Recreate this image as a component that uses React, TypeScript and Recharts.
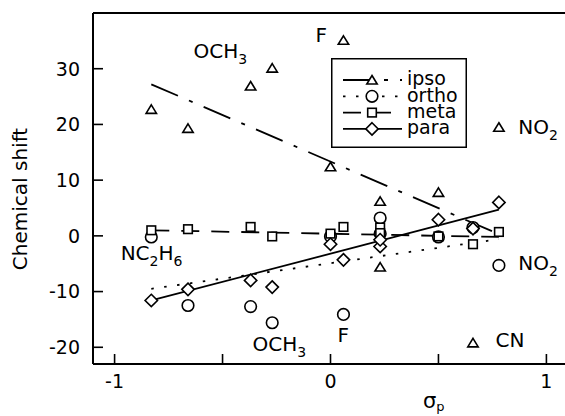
import React from "react";
import { ScatterChart, Scatter, XAxis, YAxis, ReferenceLine, Legend } from "recharts";

// substituent sigma_p values and 13C substituent shifts per ring position
const sigma = [-0.83, -0.66, -0.37, -0.27, 0.0, 0.06, 0.23, 0.23, 0.5, 0.66, 0.78];
const ipso = [22.7, 19.3, 26.9, 30.1, 12.4, 35.1, 6.2, -5.6, 7.8, -19.2, 19.5];
const ortho = [-0.2, -12.5, -12.7, -15.6, -0.1, -14.1, 0.4, 3.2, -0.2, 1.5, -5.3];
const meta = [1.0, 1.2, 1.6, -0.1, 0.4, 1.6, 1.5, 0.5, -0.1, -1.5, 0.7];
const para = [-11.6, -9.6, -8.0, -9.2, -1.5, -4.3, -1.9, -0.7, 2.9, 1.3, 6.0];

// fitted lines: end points
const fitX = [-0.83, 0.78];
const ipsoFit = [27.2, 0.3];
const orthoFit = [-9.5, -0.6];
const metaFit = [1.0, -0.2];
const paraFit = [-11.6, 4.7];

const xTicks = [-1, -0.5, 0, 0.5, 1];
const yTicks = [-20, -10, 0, 10, 20, 30];

const notes = [
  { text: "OCH_3", x: -0.634, y: 32.0 },
  { text: "F", x: -0.069, y: 34.75 },
  { text: "NO_2", x: 0.87, y: 18.3 },
  { text: "NC_2H_6", x: -0.972, y: -4.3 },
  { text: "OCH_3", x: -0.361, y: -20.7 },
  { text: "F", x: 0.032, y: -19.1 },
  { text: "CN", x: 0.764, y: -20.0 },
  { text: "NO_2", x: 0.87, y: -6.2 },
];

const FONT = "'DejaVu Sans', sans-serif";

const series = [
  { name: "ipso", values: ipso, fit: ipsoFit, marker: "triangle", dash: "29 12 4 12" },
  { name: "ortho", values: ortho, fit: orthoFit, marker: "circle", dash: "2.5 10.5" },
  { name: "meta", values: meta, fit: metaFit, marker: "square", dash: "18 12" },
  { name: "para", values: para, fit: paraFit, marker: "diamond", dash: undefined },
];

const Marker = ({ kind, cx, cy }: { kind: string; cx: number; cy: number }) => {
  const p = { fill: "#fff", stroke: "#000", strokeWidth: 1.6 };
  if (kind === "triangle")
    return <polygon points={`${cx},${cy - 4.5} ${cx + 5.2},${cy + 4} ${cx - 5.2},${cy + 4}`} {...p} />;
  if (kind === "circle") return <circle cx={cx} cy={cy} r={5.8} {...p} />;
  if (kind === "square") return <rect x={cx - 4.3} y={cy - 4.3} width={8.6} height={8.6} {...p} />;
  return <polygon points={`${cx},${cy - 6.2} ${cx + 6.2},${cy} ${cx},${cy + 6.2} ${cx - 6.2},${cy}`} {...p} />;
};

const Chem = ({ x, y, text }: { x: number; y: number; text: string }) => {
  const parts = text.split(/(_\w)/).filter(Boolean);
  let sub = false;
  return (
    <text x={x} y={y} fontFamily={FONT} fontSize={20} fill="#000">
      {parts.map((t, i) => {
        if (t.startsWith("_")) {
          sub = true;
          return <tspan key={i} dy={6} fontSize={14}>{t.slice(1)}</tspan>;
        }
        const dy = sub ? -6 : 0;
        sub = false;
        return <tspan key={i} dy={dy}>{t}</tspan>;
      })}
    </text>
  );
};

const YTick = (props: any) => {
  const { x, y, payload } = props;
  return (
    <g>
      <line x1={x} x2={x + 10} y1={y} y2={y} stroke="#000" strokeWidth={1.6} />
      <text x={x - 13} y={y} dy="0.36em" textAnchor="end" fontFamily={FONT} fontSize={19} fill="#000">
        {payload.value}
      </text>
    </g>
  );
};

const XTick = (props: any) => {
  const { x, y, payload } = props;
  return (
    <g>
      <line x1={x} x2={x} y1={y} y2={y - 10} stroke="#000" strokeWidth={1.6} />
      {Number.isInteger(payload.value) && (
        <text x={x} y={y + 24} textAnchor="middle" fontFamily={FONT} fontSize={19} fill="#000">
          {payload.value}
        </text>
      )}
    </g>
  );
};

const LegendBox = () => (
  <svg width={136} height={90} style={{ display: "block" }}>
    <rect x={0.75} y={0.75} width={134.5} height={88.5} fill="#fff" stroke="#000" strokeWidth={1.5} />
    {series.map((s, i) => {
      const cy = 22 + i * 16.3;
      return (
        <g key={s.name}>
          <line x1={12} x2={71} y1={cy} y2={cy} stroke="#000" strokeWidth={1.8} strokeDasharray={s.dash} />
          <Marker kind={s.marker} cx={41} cy={cy} />
          <text x={76} y={cy + 5.2} fontFamily={FONT} fontSize={19} fill="#000">
            {s.name}
          </text>
        </g>
      );
    })}
  </svg>
);

export default function App() {
  return (
    <div style={{ position: "fixed", left: 0, top: 0, width: 565, height: 416, overflow: "hidden", background: "#fff" }}>
      <ScatterChart width={580} height={416} margin={{ top: 13, right: 12, bottom: 0, left: 0 }}>
        <XAxis
          type="number"
          dataKey="x"
          domain={[-1.1, 1.1]}
          allowDataOverflow
          ticks={xTicks}
          interval={0}
          height={52}
          tickSize={0}
          tickMargin={0}
          tickLine={false}
          tick={<XTick />}
          axisLine={{ stroke: "#000", strokeWidth: 2 }}
          label={(p: any) => (
            <text x={p.viewBox.x + 330} y={p.viewBox.y + 44} fontFamily={FONT} fontSize={21} fill="#000">
              σ<tspan dy={3} fontSize={13}>p</tspan>
            </text>
          )}
        />
        <YAxis
          type="number"
          dataKey="y"
          domain={[-23, 40]}
          allowDataOverflow
          ticks={yTicks}
          interval={0}
          width={93}
          tickSize={0}
          tickMargin={0}
          tickLine={false}
          tick={<YTick />}
          axisLine={{ stroke: "#000", strokeWidth: 2 }}
          label={(p: any) => (
            <text
              x={p.viewBox.x + 26.5}
              y={p.viewBox.y + 186}
              transform={`rotate(-90 ${p.viewBox.x + 26.5} ${p.viewBox.y + 186})`}
              textAnchor="middle"
              fontFamily={FONT}
              fontSize={20}
              fill="#000"
            >
              Chemical shift
            </text>
          )}
        />
        <ReferenceLine y={40} stroke="#000" strokeWidth={2} ifOverflow="visible" />
        {series.map((s) => (
          <Scatter
            key={`fit-${s.name}`}
            data={fitX.map((x, i) => ({ x, y: s.fit[i] }))}
            shape={() => <g />}
            line={{ stroke: "#000", strokeWidth: 1.8, strokeDasharray: s.dash }}
            isAnimationActive={false}
            legendType="none"
          />
        ))}
        {series.map((s) => (
          <Scatter
            key={s.name}
            name={s.name}
            data={sigma.map((x, i) => ({ x, y: s.values[i] }))}
            shape={(p: any) => <Marker kind={s.marker} cx={p.cx} cy={p.cy} />}
            isAnimationActive={false}
          />
        ))}
        <Scatter
          data={notes}
          shape={(p: any) => <Chem x={p.cx} y={p.cy} text={p.payload.text} />}
          isAnimationActive={false}
          legendType="none"
        />
        <Legend
          layout="horizontal"
          verticalAlign="middle"
          align="center"
          wrapperStyle={{ left: 331, top: 58, width: 136, height: 90 }}
          content={() => <LegendBox />}
        />
      </ScatterChart>
    </div>
  );
}
